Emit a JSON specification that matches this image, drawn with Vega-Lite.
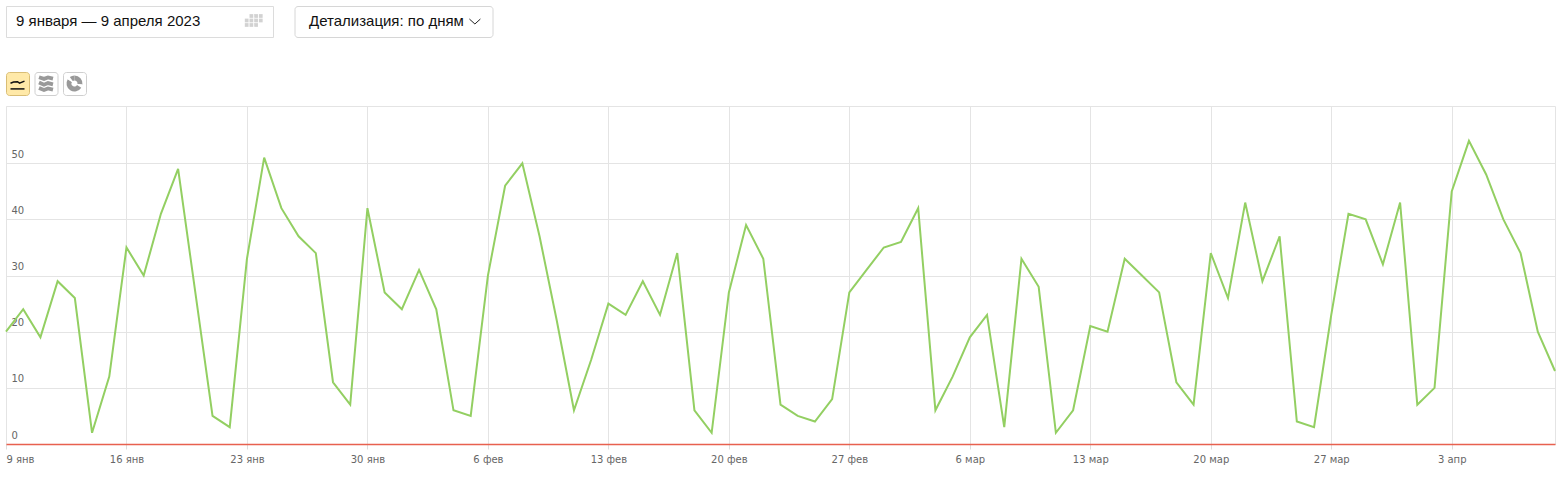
{
"$schema":"https://vega.github.io/schema/vega-lite/v6.json",
"padding":{"left":1,"top":5,"right":8,"bottom":2},
"background":"#ffffff",
"spacing":6,
"vconcat":[
{"spacing":31,"vconcat":[
{"hconcat":[
 {"width":267,"height":31,"view":{"stroke":"#dcdcdc","fill":"#ffffff"},
  "layer":[
   {"data":{"values":[{"label":"9 января  —  9 апреля 2023"}]},
    "mark":{"type":"text","align":"left","dx":-123.5,"dy":-1,"font":"Liberation Sans","fontSize":15,"color":"#111111"},
    "encoding":{"text":{"field":"label"}}},
   {"data":{"values":[{"col":1,"row":0},{"col":2,"row":0},{"col":3,"row":0},{"col":0,"row":1},{"col":1,"row":1},{"col":2,"row":1},{"col":3,"row":1},{"col":0,"row":2},{"col":1,"row":2},{"col":2,"row":2}]},
    "mark":{"type":"square","size":14,"color":"#d2d2d2","opacity":1},
    "encoding":{"x":{"field":"col","type":"quantitative","axis":null,"scale":{"domain":[-51.2,5.6]}},
     "y":{"field":"row","type":"quantitative","axis":null,"scale":{"domain":[-2.22,4.67],"reverse":true}}}}
  ]},
 {"width":198,"height":31,"view":{"stroke":"#d6d6d6","fill":"#ffffff","cornerRadius":3},
  "layer":[
   {"data":{"values":[{"label":"Детализация: по дням"}]},
    "mark":{"type":"text","align":"left","dx":-84.5,"dy":-1,"font":"Liberation Sans","fontSize":15,"color":"#111111"},
    "encoding":{"text":{"field":"label"}}},
   {"data":{"values":[{"a":0,"b":1},{"a":1,"b":0},{"a":2,"b":1}]},
    "mark":{"type":"line","color":"#222222","strokeWidth":1},
    "encoding":{"x":{"field":"a","type":"quantitative","axis":null,"scale":{"domain":[-31.8,4.2]}},
     "y":{"field":"b","type":"quantitative","axis":null,"scale":{"domain":[-2.6,3.6]}}}}
  ]}
 ],"spacing":19.5},
{"hconcat":[
 {"width":23,"height":23,"view":{"stroke":"#d9bd75","fill":"#ffe9a8","cornerRadius":3},
  "data":{"values":[
   {"a":0,"b":8.2,"s":"trend"},{"a":3,"b":9.4,"s":"trend"},{"a":7,"b":9.8,"s":"trend"},{"a":9,"b":8.4,"s":"trend"},{"a":14,"b":10.4,"s":"trend"},
   {"a":0,"b":2.6,"s":"base"},{"a":14,"b":2.6,"s":"base"}]},
  "mark":{"type":"line","color":"#111111","strokeWidth":1.5},
  "encoding":{"detail":{"field":"s"},
   "x":{"field":"a","type":"quantitative","axis":null,"scale":{"domain":[-4.5,18.5]}},
   "y":{"field":"b","type":"quantitative","axis":null,"scale":{"domain":[-3.5,19.5]}}}},
 {"width":23,"height":23,"view":{"stroke":"#cfcfcf","fill":"#ffffff","cornerRadius":3},
  "data":{"values":[
   {"a":0,"b":2.5,"s":"1"},{"a":5,"b":0.5,"s":"1"},{"a":9,"b":2,"s":"1"},{"a":14,"b":0.8,"s":"1"},
   {"a":0,"b":8,"s":"2"},{"a":5,"b":5.8,"s":"2"},{"a":9,"b":7.4,"s":"2"},{"a":14,"b":6.2,"s":"2"},
   {"a":0,"b":13.2,"s":"3"},{"a":5,"b":11.6,"s":"3"},{"a":9,"b":13,"s":"3"},{"a":14,"b":11.8,"s":"3"}]},
  "mark":{"type":"line","color":"#999999","strokeWidth":3.8},
  "encoding":{"detail":{"field":"s"},
   "x":{"field":"a","type":"quantitative","axis":null,"scale":{"domain":[-4.5,18.5]}},
   "y":{"field":"b","type":"quantitative","axis":null,"scale":{"domain":[-4.5,18.5]}}}},
 {"width":23,"height":23,"view":{"stroke":"#cfcfcf","fill":"#ffffff","cornerRadius":3},
  "data":{"values":[{"part":"a","share":27},{"part":"b","share":7},{"part":"c","share":50},{"part":"d","share":6},{"part":"e","share":10}]},
  "mark":{"type":"arc","innerRadius":3,"outerRadius":8},
  "encoding":{"theta":{"field":"share","type":"quantitative","stack":true},
   "order":{"field":"part"},
   "color":{"field":"part","type":"nominal","legend":null,"scale":{"domain":["a","b","c","d","e"],"range":["#999999","#ffffff","#999999","#ffffff","#999999"]}}}}
 ],"spacing":0.5}
]},
{"width":1549,"height":338,
 "view":{"stroke":"#e4e4e4","fill":"#ffffff"},
 "data":{"values":[
{"date":"2023-01-09","visits":20},{"date":"2023-01-10","visits":24},{"date":"2023-01-11","visits":19},{"date":"2023-01-12","visits":29},{"date":"2023-01-13","visits":26},{"date":"2023-01-14","visits":2},{"date":"2023-01-15","visits":12},
{"date":"2023-01-16","visits":35},{"date":"2023-01-17","visits":30},{"date":"2023-01-18","visits":41},{"date":"2023-01-19","visits":49},{"date":"2023-01-20","visits":27},{"date":"2023-01-21","visits":5},{"date":"2023-01-22","visits":3},
{"date":"2023-01-23","visits":33},{"date":"2023-01-24","visits":51},{"date":"2023-01-25","visits":42},{"date":"2023-01-26","visits":37},{"date":"2023-01-27","visits":34},{"date":"2023-01-28","visits":11},{"date":"2023-01-29","visits":7},
{"date":"2023-01-30","visits":42},{"date":"2023-01-31","visits":27},{"date":"2023-02-01","visits":24},{"date":"2023-02-02","visits":31},{"date":"2023-02-03","visits":24},{"date":"2023-02-04","visits":6},{"date":"2023-02-05","visits":5},
{"date":"2023-02-06","visits":30},{"date":"2023-02-07","visits":46},{"date":"2023-02-08","visits":50},{"date":"2023-02-09","visits":37},{"date":"2023-02-10","visits":22},{"date":"2023-02-11","visits":6},{"date":"2023-02-12","visits":15},
{"date":"2023-02-13","visits":25},{"date":"2023-02-14","visits":23},{"date":"2023-02-15","visits":29},{"date":"2023-02-16","visits":23},{"date":"2023-02-17","visits":34},{"date":"2023-02-18","visits":6},{"date":"2023-02-19","visits":2},
{"date":"2023-02-20","visits":27},{"date":"2023-02-21","visits":39},{"date":"2023-02-22","visits":33},{"date":"2023-02-23","visits":7},{"date":"2023-02-24","visits":5},{"date":"2023-02-25","visits":4},{"date":"2023-02-26","visits":8},
{"date":"2023-02-27","visits":27},{"date":"2023-02-28","visits":31},{"date":"2023-03-01","visits":35},{"date":"2023-03-02","visits":36},{"date":"2023-03-03","visits":42},{"date":"2023-03-04","visits":6},{"date":"2023-03-05","visits":12},
{"date":"2023-03-06","visits":19},{"date":"2023-03-07","visits":23},{"date":"2023-03-08","visits":3},{"date":"2023-03-09","visits":33},{"date":"2023-03-10","visits":28},{"date":"2023-03-11","visits":2},{"date":"2023-03-12","visits":6},
{"date":"2023-03-13","visits":21},{"date":"2023-03-14","visits":20},{"date":"2023-03-15","visits":33},{"date":"2023-03-16","visits":30},{"date":"2023-03-17","visits":27},{"date":"2023-03-18","visits":11},{"date":"2023-03-19","visits":7},
{"date":"2023-03-20","visits":34},{"date":"2023-03-21","visits":26},{"date":"2023-03-22","visits":43},{"date":"2023-03-23","visits":29},{"date":"2023-03-24","visits":37},{"date":"2023-03-25","visits":4},{"date":"2023-03-26","visits":3},
{"date":"2023-03-27","visits":23},{"date":"2023-03-28","visits":41},{"date":"2023-03-29","visits":40},{"date":"2023-03-30","visits":32},{"date":"2023-03-31","visits":43},{"date":"2023-04-01","visits":7},{"date":"2023-04-02","visits":10},
{"date":"2023-04-03","visits":45},{"date":"2023-04-04","visits":54},{"date":"2023-04-05","visits":48},{"date":"2023-04-06","visits":40},{"date":"2023-04-07","visits":34},{"date":"2023-04-08","visits":20},{"date":"2023-04-09","visits":13}
 ]},
 "mark":{"type":"line","color":"#93cf62","strokeWidth":2,"interpolate":"linear","clip":false},
 "encoding":{
  "x":{"field":"date","type":"temporal",
   "scale":{"type":"utc","domain":["2023-01-09","2023-04-09"]},
   "axis":{"title":null,"values":["2023-01-09","2023-01-16","2023-01-23","2023-01-30","2023-02-06","2023-02-13","2023-02-20","2023-02-27","2023-03-06","2023-03-13","2023-03-20","2023-03-27","2023-04-03"],
    "labelExpr":"utcdate(datum.value)+' '+['янв','фев','мар','апр'][utcmonth(datum.value)]",
    "grid":true,"gridColor":"#e4e4e4","gridWidth":1,"domain":true,"domainColor":"#e8614f","domainWidth":1.3,
    "ticks":true,"tickColor":"#dddddd","tickSize":5,"labelFlush":true,"labelOverlap":false,"labelPadding":5,
    "labelFont":"DejaVu Sans","labelFontSize":10,"labelColor":"#666666"}},
  "y":{"field":"visits","type":"quantitative",
   "scale":{"domain":[0,60.2],"nice":false},
   "axis":{"title":null,"values":[0,10,20,30,40,50],"grid":true,"gridColor":"#e4e4e4","gridWidth":1,"domain":false,"ticks":false,
    "labelAlign":"left","labelPadding":-5,"labelOffset":-9,"labelFont":"DejaVu Sans","labelFontSize":10,"labelColor":"#666666"}}
 }}
]
}
